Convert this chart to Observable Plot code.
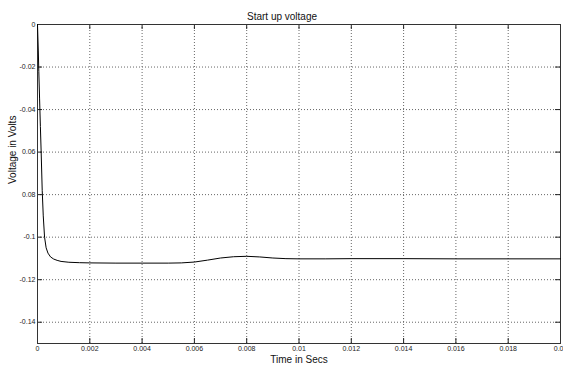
<!DOCTYPE html>
<html>
<head>
<meta charset="utf-8">
<script src="https://cdn.jsdelivr.net/npm/d3@7"></script>
<script src="https://cdn.jsdelivr.net/npm/@observablehq/plot@0.6"></script>
<style>
  html, body { margin: 0; padding: 0; background: #fff; }
</style>
</head>
<body>
<div id="chart"></div>
<script>
const titleText = "Start up voltage";
const xLabelText = "Time in Secs";
const yLabelText = "Voltage in Volts";

const time = [0, 0.00001, 0.00003, 0.00005, 0.00008, 0.00011, 0.00014, 0.00018, 0.00022, 0.00027, 0.00033, 0.0004, 0.0005, 0.00062, 0.00075, 0.0009, 0.0012, 0.0016, 0.002, 0.003, 0.004, 0.005, 0.0055, 0.006, 0.0065, 0.007, 0.0075, 0.008, 0.0085, 0.009, 0.0095, 0.01, 0.011, 0.012, 0.014, 0.016, 0.018, 0.02];
const voltage = [0, -0.004, -0.012, -0.022, -0.035, -0.048, -0.06, -0.078, -0.09, -0.1, -0.105, -0.1075, -0.1093, -0.1103, -0.1109, -0.1114, -0.1118, -0.112, -0.1121, -0.1122, -0.1122, -0.1122, -0.1121, -0.1117, -0.1108, -0.1098, -0.1092, -0.109, -0.1093, -0.1098, -0.1101, -0.1102, -0.1102, -0.1101, -0.1101, -0.1102, -0.1102, -0.1102];

const xTicks = [0, 0.002, 0.004, 0.006, 0.008, 0.01, 0.012, 0.014, 0.016, 0.018, 0.02];
const xTickLabels = ["0", "0.002", "0.004", "0.006", "0.008", "0.01", "0.012", "0.014", "0.016", "0.018", "0.0"];
const yTicks = [0, -0.02, -0.04, -0.06, -0.08, -0.1, -0.12, -0.14];
const yTickLabels = ["0", "-0.02", "-0.04", "0.06", "0.08", "-0.1", "-0.12", "-0.14"];

const W = 563, H = 371;
const mL = 37, mR = 3, mT = 24, mB = 28;
const plotW = W - mL - mR, plotH = H - mT - mB;

const series = time.map((t, i) => ({t, v: voltage[i]}));
const xGrid = xTicks.slice(1, -1);
const xInner = xTicks.slice(0, -1);
const xLast = xTicks.slice(-1);
const labelOf = d => xTickLabels[xTicks.indexOf(d)];

const chart = Plot.plot({
  width: W,
  height: H,
  marginLeft: mL,
  marginRight: mR,
  marginTop: mT,
  marginBottom: mB,
  style: {fontFamily: "'Liberation Sans', Arial, sans-serif", background: "#fff", color: "#000"},
  x: {domain: [0, 0.02]},
  y: {domain: [-0.15, 0]},
  marks: [
    Plot.ruleX(xGrid, {x: d => d, stroke: "#666", strokeDasharray: "1,2", strokeWidth: 1}),
    Plot.ruleY(yTicks.slice(1), {y: d => d, stroke: "#666", strokeDasharray: "1,2", strokeWidth: 1}),
    Plot.tickX(xTicks, {x: d => d, insetTop: plotH - 5, stroke: "#222"}),
    Plot.tickX(xTicks, {x: d => d, insetBottom: plotH - 5, stroke: "#222"}),
    Plot.tickY(yTicks, {y: d => d, insetRight: plotW - 5, stroke: "#222"}),
    Plot.tickY(yTicks, {y: d => d, insetLeft: plotW - 5, stroke: "#222"}),
    Plot.frame({stroke: "#333"}),
    Plot.line(series, {x: "t", y: "v", stroke: "#000", strokeWidth: 1}),
    Plot.axisX(xInner, {label: null, tickSize: 0, tickPadding: 3, fontSize: 7, fill: "#222", tickFormat: labelOf}),
    Plot.text(xLast, {x: d => d, text: labelOf, frameAnchor: "bottom", lineAnchor: "top", textAnchor: "end", dx: 3, dy: 3, fontSize: 7, fill: "#222"}),
    Plot.axisY(yTicks, {label: null, tickSize: 0, tickPadding: 2, fontSize: 7, fill: "#222", tickFormat: d => yTickLabels[yTicks.indexOf(d)]}),
    Plot.text([titleText], {text: d => d, frameAnchor: "top", dy: -12, dx: -17, fontSize: 10, fill: "#111"}),
    Plot.text([xLabelText], {text: d => d, frameAnchor: "bottom", dy: 19, fontSize: 10, fill: "#111"}),
    Plot.text([yLabelText], {text: d => d, frameAnchor: "left", rotate: -90, dx: -25, fontSize: 10, fill: "#111"})
  ]
});
document.getElementById("chart").appendChild(chart);
</script>
</body>
</html>
